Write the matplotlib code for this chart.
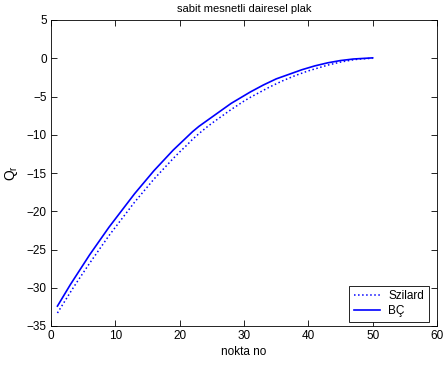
import matplotlib
matplotlib.use("Agg")
import matplotlib.pyplot as plt

plt.rcParams['font.family'] = ['Liberation Sans', 'DejaVu Sans']
plt.rcParams['mathtext.fontset'] = 'custom'
plt.rcParams['mathtext.rm'] = 'Liberation Sans'

nokta = list(range(1, 51))
bc = [-32.4, -31.0, -29.6, -28.3, -27.0, -25.7, -24.5, -23.3, -22.1, -21.0,
      -19.9, -18.8, -17.7, -16.7, -15.7, -14.7, -13.8, -12.9, -12.0, -11.2,
      -10.4, -9.6, -8.9, -8.3, -7.7, -7.1, -6.5, -5.9, -5.4, -4.9,
      -4.4, -3.95, -3.5, -3.1, -2.7, -2.4, -2.1, -1.8, -1.5, -1.25,
      -1.0, -0.8, -0.6, -0.45, -0.3, -0.2, -0.1, -0.05, 0.0, 0.05]
szilard = [-33.3, -31.95, -30.6, -29.3, -28.05, -26.8, -25.6, -24.4, -23.2, -22.1,
           -21.0, -19.9, -18.8, -17.8, -16.8, -15.8, -14.9, -14.0, -13.1, -12.25,
           -11.45, -10.6, -9.85, -9.15, -8.5, -7.9, -7.3, -6.7, -6.15, -5.6,
           -5.1, -4.65, -4.2, -3.75, -3.35, -2.95, -2.6, -2.25, -1.95, -1.65,
           -1.4, -1.15, -0.9, -0.7, -0.5, -0.35, -0.2, -0.1, -0.05, 0.0]
xticks = [0, 10, 20, 30, 40, 50, 60]
yticks = [-35, -30, -25, -20, -15, -10, -5, 0, 5]

fig = plt.figure(figsize=(4.43, 3.67), dpi=100)
ax = fig.add_axes([51/443, 41/367, 386/443, 306/367])

ax.plot(nokta, szilard, linestyle=':', color='#0000ff', linewidth=1.1, label='Szilard')
ax.plot(nokta, bc, linestyle='-', color='#0000ff', linewidth=1.2, label='BÇ')

ax.set_xlim(0, 60)
ax.set_ylim(-35, 5)
ax.set_xticks(xticks)
ax.set_yticks(yticks)
ax.tick_params(direction='in', top=True, right=True, labelsize=8.5, length=4, width=0.6, pad=3)
for s in ax.spines.values():
    s.set_linewidth(0.6)

ax.set_title('sabit mesnetli dairesel plak', fontsize=8, pad=6)
ax.set_xlabel('nokta no', fontsize=8.5, labelpad=3)
ax.set_ylabel(r'$\mathregular{Q_r}$', fontsize=10, labelpad=5)

leg = ax.legend(loc='lower right', bbox_to_anchor=(0.979, 0.013), fontsize=8.5,
                fancybox=False, framealpha=1, edgecolor='black',
                handlelength=2.2, handletextpad=0.7, borderpad=0.4,
                labelspacing=0.25, borderaxespad=0)
leg.get_frame().set_linewidth(0.6)

fig.savefig('out.png', dpi=100)
